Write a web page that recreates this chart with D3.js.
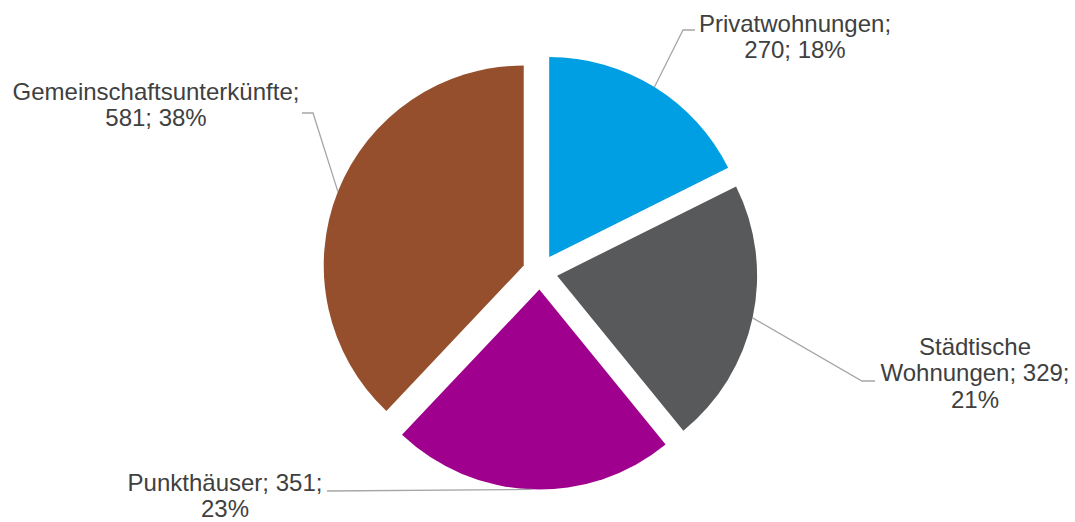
<!DOCTYPE html>
<html>
<head>
<meta charset="utf-8">
<script src="https://cdn.jsdelivr.net/npm/d3@7"></script>
<style>
  html, body { margin: 0; padding: 0; background: #ffffff; }
  svg { display: block; }
  text { font-family: "Liberation Sans", Arial, sans-serif; fill: #404040; }
</style>
</head>
<body>
<svg id="chart" width="1075" height="522"></svg>
<script>
// ---- data ----
const categories = ["Privatwohnungen", "Städtische Wohnungen", "Punkthäuser", "Gemeinschaftsunterkünfte"];
const values = [270, 329, 351, 581];
const percents = ["18%", "21%", "23%", "38%"];
const labelLines = [
  ["Privatwohnungen;", "270; 18%"],
  ["Städtische", "Wohnungen; 329;", "21%"],
  ["Punkthäuser; 351;", "23%"],
  ["Gemeinschaftsunterkünfte;", "581; 38%"]
];
const colors = ["#009FE3", "#58595B", "#A0008E", "#954F2C"];

// ---- layout ----
const W = 1075, H = 522;
const cx = 540, cy = 272, R = 200, explode = 17.5;
const fontSize = 24, lineH = 26.3;

// label anchors (centre x, first baseline y) and leader-line bends
const labelPos = [
  { x: 795, y: 32, bend: [[683, 30], [695, 30]] },
  { x: 975, y: 355, bend: [[862, 381], [875, 381]] },
  { x: 225, y: 491, bend: [[327, 491]] },
  { x: 156, y: 100, bend: [[313, 113], [302, 113]] }
];

const svg = d3.select("#chart");
const g = svg.append("g").attr("transform", `translate(${cx},${cy})`);

const pie = d3.pie().sort(null).value(d => d)(values);
const arc = d3.arc().innerRadius(0).outerRadius(R);

const offset = d => {
  const a = (d.startAngle + d.endAngle) / 2;
  return [explode * Math.sin(a), -explode * Math.cos(a)];
};

g.selectAll("path.slice")
  .data(pie)
  .join("path")
  .attr("class", "slice")
  .attr("d", arc)
  .attr("fill", (d, i) => colors[i])
  .attr("transform", d => { const o = offset(d); return `translate(${o[0]},${o[1]})`; });

// leader lines
const line = d3.line();
pie.forEach((d, i) => {
  const a = (d.startAngle + d.endAngle) / 2;
  const o = offset(d);
  const p0 = [cx + o[0] + R * Math.sin(a), cy + o[1] - R * Math.cos(a)];
  const pts = [p0].concat(labelPos[i].bend);
  svg.append("path")
    .attr("d", line(pts))
    .attr("fill", "none")
    .attr("stroke", "#A6A6A6")
    .attr("stroke-width", 1.3);
});

// labels
labelLines.forEach((lines, i) => {
  const t = svg.append("text")
    .attr("text-anchor", "middle")
    .attr("font-size", fontSize);
  lines.forEach((s, k) => {
    t.append("tspan")
      .attr("x", labelPos[i].x)
      .attr("y", labelPos[i].y + k * lineH)
      .text(s);
  });
});
</script>
</body>
</html>
